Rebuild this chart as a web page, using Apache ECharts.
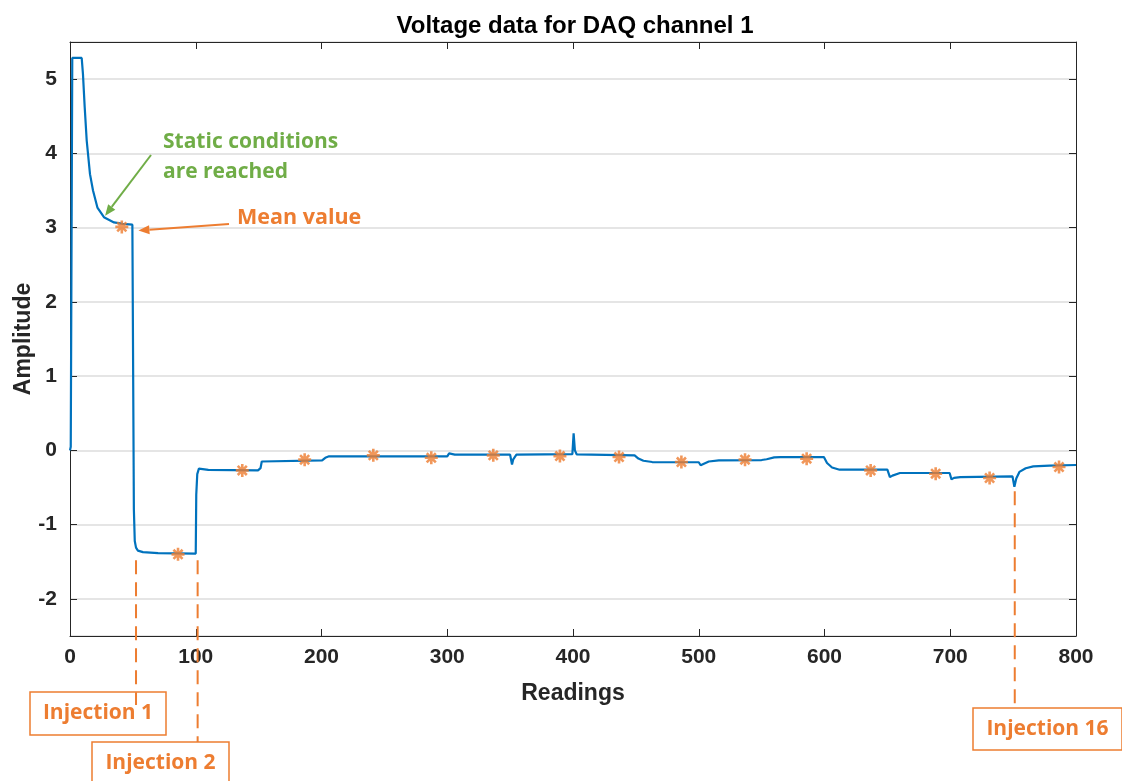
<!DOCTYPE html>
<html>
<head>
    <meta charset="utf-8" />
    <title>Voltage data for DAQ channel 1</title>
    <script src="https://cdn.jsdelivr.net/npm/echarts@6/dist/echarts.min.js"></script>
</head>
<body style="margin:0">
<div id="main" style="width:1122px;height:781px;"></div>
<script type="text/javascript">
    // trace of channel 1 (reading number, amplitude)
    var readings = [0, 0.6, 1.8, 9.3, 10.3, 11.7, 13.3, 15.9, 18.3, 21.8, 27, 35, 42, 49.6, 50.2,
        50.8, 51.5, 52.5, 54, 58, 70, 100, 100.4, 101.2, 102.5, 104, 110, 149.5, 151.5, 152.5, 154,
        200.5, 203, 206, 300, 301.5, 303, 306, 350, 351.5, 352.5, 355, 399.5, 400.5, 401.5, 403,
        449, 452, 456, 463, 500, 501.5, 503, 508, 516, 550, 551.5, 554, 560, 565, 599.5, 602, 606, 612,
        650, 652, 654, 660, 699.5, 701, 703, 708, 749.5, 751, 752.5, 755, 760, 766, 779, 800];
    var amplitude = [0, 0.05, 5.285, 5.285, 5.07, 4.62, 4.17, 3.72, 3.50, 3.27, 3.14, 3.07, 3.05, 3.04, 3.03,
        -0.8, -1.22, -1.31, -1.35, -1.37, -1.385, -1.39, -0.6, -0.32, -0.245, -0.25, -0.262, -0.27, -0.24, -0.15, -0.135,
        -0.135, -0.1, -0.08, -0.08, -0.04, -0.036, -0.058, -0.058, -0.19, -0.12, -0.058, -0.05, 0.23, 0.0, -0.055,
        -0.067, -0.11, -0.14, -0.157, -0.16, -0.2, -0.19, -0.15, -0.135, -0.13, -0.15, -0.12, -0.095, -0.09, -0.09, -0.17, -0.23, -0.26,
        -0.26, -0.36, -0.34, -0.305, -0.305, -0.39, -0.37, -0.36, -0.35, -0.49, -0.38, -0.29, -0.24, -0.215, -0.205, -0.197];

    // mean value of each injection (orange stars)
    var meanReadings = [41.2, 85.9, 137, 186.6, 241.2, 287.3, 336.6, 389.6, 436.6, 486.2, 536.8, 585.8, 636.7, 688.4, 731.3, 786.5];
    var meanValues = [3.01, -1.40, -0.27, -0.125, -0.067, -0.10, -0.067, -0.077, -0.09, -0.157, -0.125, -0.112, -0.27, -0.314, -0.372, -0.224];

    // injection markers below the axis
    var injectionNames = ['Injection 1', 'Injection 2', 'Injection 16'];
    var injectionReadings = [52.5, 101.5, 751.3];
    var injectionTops = [-1.48, -1.48, -0.55];

    var blue = '#0072BD';
    var orange = '#ED7D31';
    var green = '#70AD47';
    var axisColor = '#262626';

    var myChart = echarts.init(document.getElementById('main'));

    var traceData = readings.map(function (r, i) { return [r, amplitude[i]]; });
    var meanData = meanReadings.map(function (r, i) { return [r, meanValues[i]]; });

    var tickFont = { color: axisColor, fontSize: 21, fontWeight: 'bold', fontFamily: 'Liberation Sans' };

    var option = {
        animation: false,
        backgroundColor: '#fff',
        title: {
            text: 'Voltage data for DAQ channel 1',
            left: 570,
            textAlign: 'center',
            top: 9,
            textStyle: { color: '#000', fontSize: 24, fontWeight: 'bold', fontFamily: 'Liberation Sans' }
        },
        grid: { left: 70, right: 46, top: 42, bottom: 145, outerBoundsMode: 'none' },
        xAxis: [{
            type: 'value', min: 0, max: 800, interval: 100,
            name: 'Readings', nameLocation: 'middle', nameGap: 46, nameMoveOverlap: false,
            nameTextStyle: { color: axisColor, fontSize: 23, fontWeight: 'bold', fontFamily: 'Liberation Sans' },
            axisLine: { show: true, onZero: false, lineStyle: { color: axisColor, width: 1 } },
            axisTick: { inside: true, length: 7, lineStyle: { color: axisColor } },
            axisLabel: Object.assign({ margin: 11 }, tickFont),
            splitLine: { show: false }
        }, {
            type: 'value', min: 0, max: 800, interval: 100, position: 'top',
            axisLine: { show: true, onZero: false, lineStyle: { color: axisColor, width: 1 } },
            axisTick: { inside: true, length: 7, lineStyle: { color: axisColor } },
            axisLabel: { show: false },
            splitLine: { show: false }
        }],
        yAxis: [{
            type: 'value', min: -2.5, max: 5.5, splitNumber: 8,
            name: 'Amplitude', nameLocation: 'middle', nameGap: 35, nameMoveOverlap: false,
            nameTextStyle: { color: axisColor, fontSize: 23, fontWeight: 'bold', fontFamily: 'Liberation Sans' },
            axisLine: { show: true, onZero: false, lineStyle: { color: axisColor, width: 1 } },
            axisTick: { inside: true, length: 7, lineStyle: { color: axisColor } },
            axisLabel: Object.assign({ margin: 13, showMinLabel: false, showMaxLabel: false }, tickFont),
            splitLine: { show: true, lineStyle: { color: '#dcdcdc', width: 1.5 } }
        }, {
            type: 'value', min: -2.5, max: 5.5, splitNumber: 8, position: 'right',
            axisLine: { show: true, onZero: false, lineStyle: { color: axisColor, width: 1 } },
            axisTick: { inside: true, length: 7, lineStyle: { color: axisColor } },
            axisLabel: { show: false },
            splitLine: { show: false }
        }],
        series: [{
            name: 'Channel 1',
            type: 'line',
            data: traceData,
            showSymbol: false,
            lineStyle: { color: blue, width: 2.2 },
            z: 3
        }, {
            name: 'Mean value',
            type: 'scatter',
            data: meanData,
            symbol: 'path://M0,-5L0,5M-5,0L5,0M-3.5,-3.5L3.5,3.5M-3.5,3.5L3.5,-3.5',
            symbolSize: 13,
            itemStyle: { color: 'none', borderColor: orange, borderWidth: 2.6 },
            z: 4
        }]
    };
    myChart.setOption(option);

    function px(point) {
        return myChart.convertToPixel({ gridIndex: 0 }, point);
    }

    function arrow(from, to, color) {
        var dx = to[0] - from[0], dy = to[1] - from[1];
        var len = Math.sqrt(dx * dx + dy * dy);
        var ux = dx / len, uy = dy / len;
        var head = 11, half = 4.5;
        var bx = to[0] - ux * head, by = to[1] - uy * head;
        return [
            { type: 'line', z: 100, shape: { x1: from[0], y1: from[1], x2: bx, y2: by }, style: { stroke: color, lineWidth: 2 } },
            { type: 'polygon', z: 100, shape: { points: [[to[0], to[1]], [bx - uy * half, by + ux * half], [bx + uy * half, by - ux * half]] }, style: { fill: color } }
        ];
    }

    var noteFont = 'bold 21px "Open Sans"';
    var graphics = [];

    // annotation texts and arrows
    graphics.push({ type: 'text', z: 100, left: 163, top: 127, style: { text: 'Static conditions\nare reached', font: noteFont, fill: green, lineHeight: 30 } });
    graphics.push({ type: 'text', z: 100, left: 237, top: 207, style: { text: 'Mean value', font: 'bold 21.5px "Open Sans"', fill: orange } });
    graphics = graphics.concat(arrow([151, 155], px([27.9, 3.16]), green));
    graphics = graphics.concat(arrow([229, 224], px([54.4, 2.96]), orange));

    // injection boxes (left, top, width, height) and dashed guide lines
    var boxes = [[30, 692, 136, 43], [92, 742, 137, 50], [973, 708, 149, 42]];
    injectionNames.forEach(function (name, i) {
        var p = px([injectionReadings[i], injectionTops[i]]);
        var b = boxes[i];
        graphics.push({
            type: 'rect', z: 99, shape: { x: b[0], y: b[1], width: b[2], height: b[3] },
            style: { fill: '#fff', stroke: orange, lineWidth: 1.5 }
        });
        graphics.push({
            type: 'line', z: 101, shape: { x1: p[0], y1: p[1], x2: p[0], y2: b[1] + (i === 0 ? 13 : 0) },
            style: { stroke: orange, lineWidth: 2, lineDash: [14, 8] }
        });
        graphics.push({
            type: 'text', z: 102, x: b[0] + b[2] / 2, y: b[1] + 21,
            style: { text: name, font: noteFont, fill: orange, align: 'center', verticalAlign: 'middle' }
        });
    });

    myChart.setOption({ graphic: graphics });
</script>
</body>
</html>
